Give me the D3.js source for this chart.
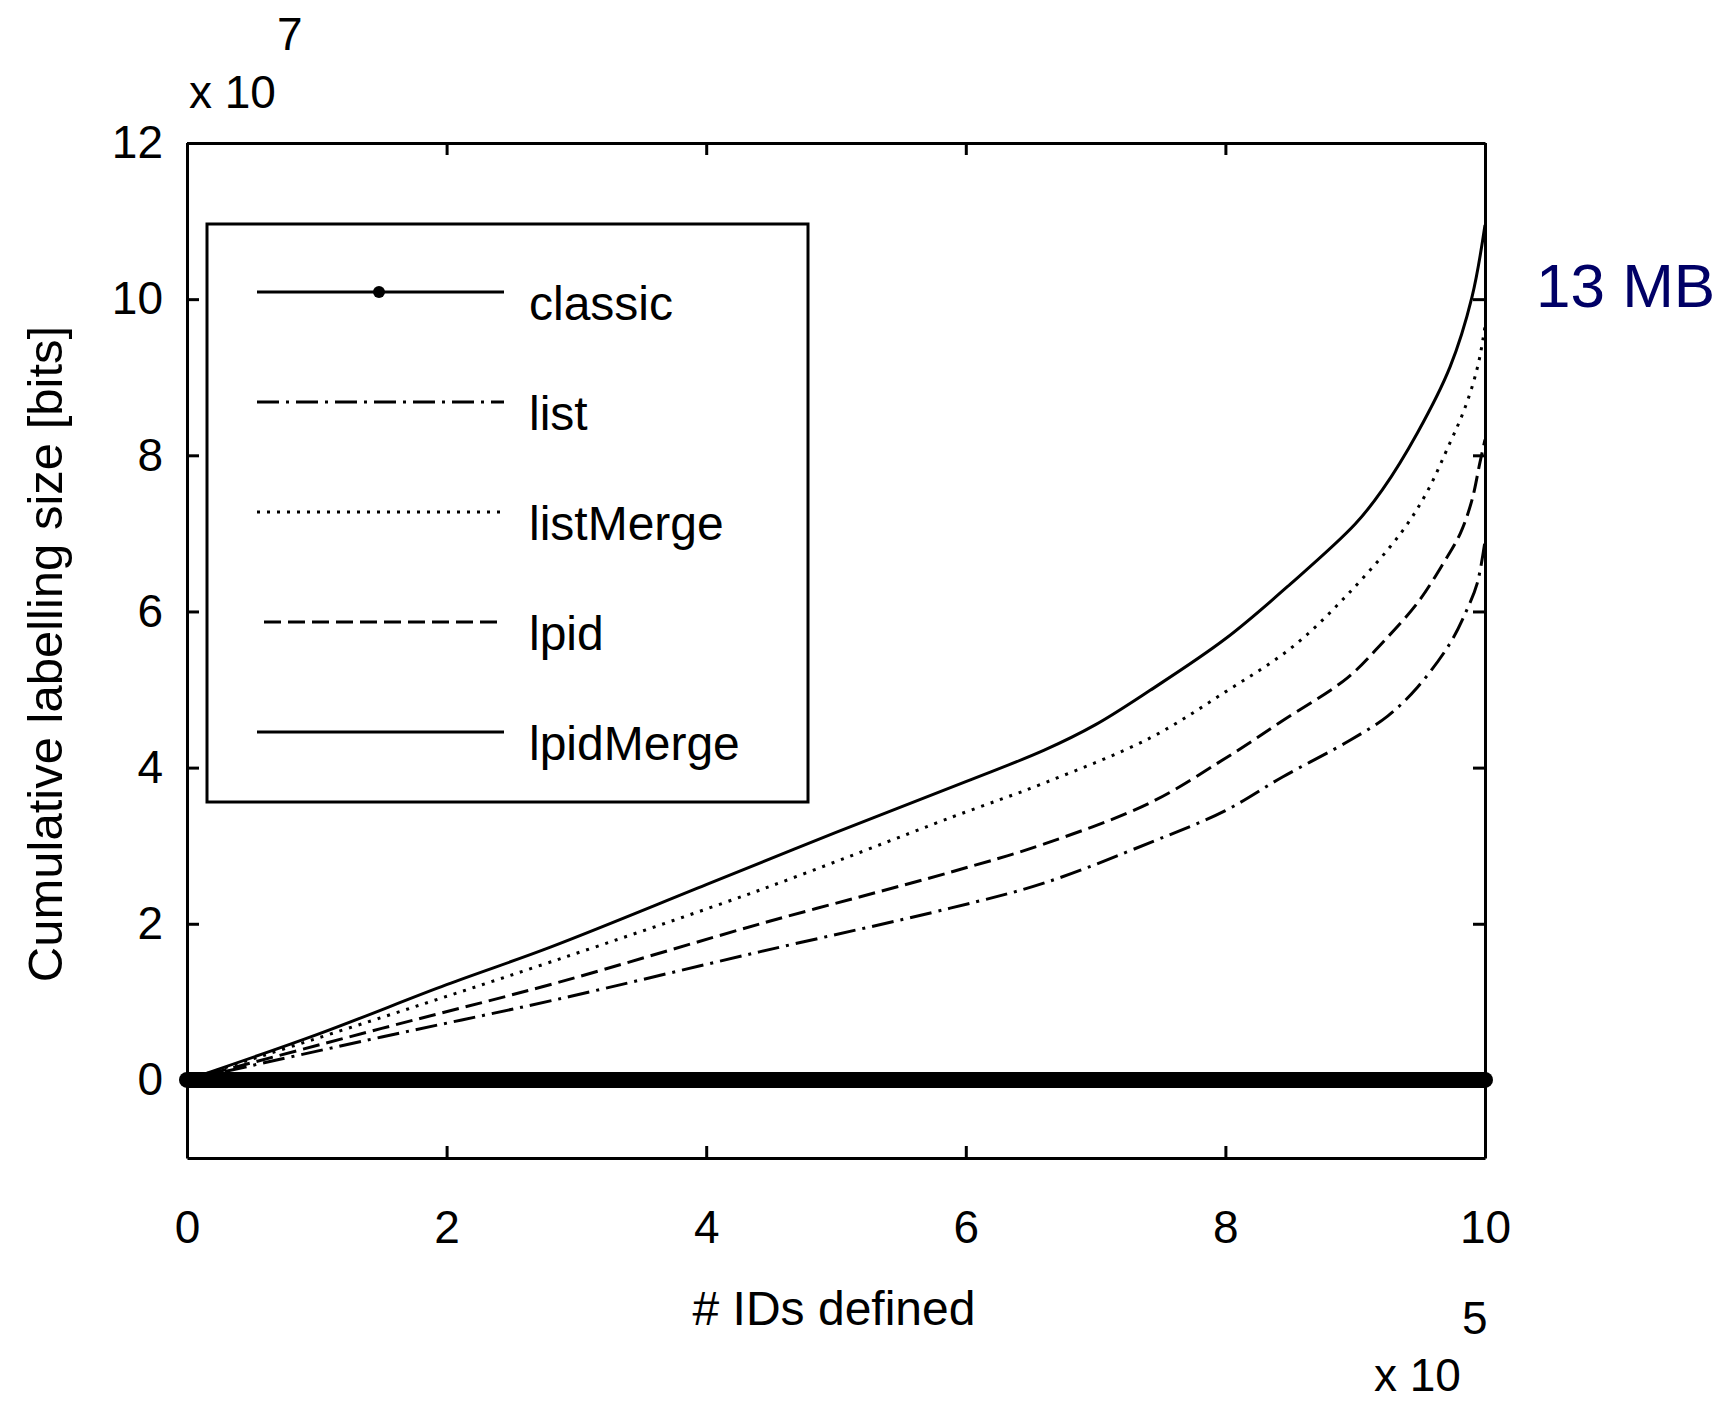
<!DOCTYPE html>
<html>
<head>
<meta charset="utf-8">
<script src="https://cdn.jsdelivr.net/npm/d3@7"></script>
<style>
  body { margin: 0; background: #fff; }
  svg { display: block; font-family: 'Liberation Sans', Arial, sans-serif; }
  .axis path, .axis line { stroke: #000; stroke-width: 3; }
  .axis text { font-size: 46px; fill: #000; font-family: 'Liberation Sans', Arial, sans-serif; }
</style>
</head>
<body>
<div id="chart"></div>
<script>
;(function() {
  'use strict';
  // x in units of 1e5 IDs, y in units of 1e7 bits
  var xTicks = [0, 2, 4, 6, 8, 10],
      yTicks = [0, 2, 4, 6, 8, 10, 12],
      xDomain = [0, 10],
      yDomain = [-1, 12];

  var classic = [[0, 0], [1, 0], [2, 0], [3, 0], [4, 0], [5, 0], [6, 0], [7, 0], [8, 0], [9, 0], [10, 0]];
  var list = [[0, 0], [1.5, 0.55], [2.82, 1.02], [4.41, 1.64], [5.88, 2.2], [6.6, 2.52], [7.42, 3.04],
              [8, 3.45], [8.44, 3.88], [8.96, 4.35], [9.25, 4.66], [9.48, 5.03], [9.73, 5.59],
              [9.86, 6.02], [9.94, 6.36], [10, 6.9]];
  var listMerge = [[0, 0], [1.5, 0.8], [2.8, 1.51], [4.41, 2.43], [5.9, 3.37], [6.6, 3.8], [7.42, 4.38],
                   [8, 4.97], [8.52, 5.55], [8.96, 6.25], [9.35, 7.0], [9.55, 7.52], [9.73, 8.16],
                   [9.83, 8.54], [9.91, 8.93], [9.96, 9.26], [10, 9.65]];
  var lpid = [[0, 0], [1.5, 0.66], [2.84, 1.24], [4.44, 2.01], [5.88, 2.66], [6.6, 3.02], [7.42, 3.55],
              [8, 4.12], [8.44, 4.6], [8.94, 5.15], [9.21, 5.6], [9.48, 6.11], [9.68, 6.62],
              [9.81, 7.0], [9.9, 7.43], [9.96, 7.9], [10, 8.2]];
  var lpidMerge = [[0, 0], [1, 0.58], [2, 1.22], [2.8, 1.7], [4, 2.5], [5, 3.17], [6, 3.82], [6.6, 4.22],
                   [7, 4.55], [7.42, 4.99], [8, 5.65], [8.5, 6.35], [9, 7.12], [9.21, 7.56], [9.48, 8.29],
                   [9.73, 9.13], [9.9, 10.03], [10, 10.95]];

  var seriesNames = ['classic', 'list', 'listMerge', 'lpid', 'lpidMerge'],
      seriesData = [classic, list, listMerge, lpid, lpidMerge],
      seriesDash = [null, '22,7,3,7', '3,7', '17,7', null];

  var margin = {top: 143, left: 187},
      width = 1298,
      height = 1015,
      tickLen = 12;

  var svg = d3.select('#chart')
    .append('svg')
    .attr('width', 1729)
    .attr('height', 1401);

  var x = d3.scaleLinear().domain(xDomain).range([0, width]),
      y = d3.scaleLinear().domain(yDomain).range([height, 0]);

  var g = svg.append('g')
    .attr('transform', 'translate(' + margin.left + ',' + margin.top + ')');

  g.append('rect')
    .attr('width', width)
    .attr('height', height)
    .attr('fill', '#fff');

  var line = d3.line()
    .x(function(d) { return x(d[0]); })
    .y(function(d) { return y(d[1]); })
    .curve(d3.curveCatmullRom.alpha(0.5));

  // Curves (classic is drawn last, its dense markers form the thick band)
  seriesData.forEach(function(data, i) {
    if (i === 0) return;
    g.append('path')
      .datum(data)
      .attr('fill', 'none')
      .attr('stroke', '#000')
      .attr('stroke-width', 3)
      .attr('stroke-dasharray', seriesDash[i])
      .attr('d', line);
  });

  g.append('path')
    .datum(classic)
    .attr('fill', 'none')
    .attr('stroke', '#000')
    .attr('stroke-width', 16)
    .attr('stroke-linecap', 'round')
    .attr('d', line);

  // Axes, ticks pointing inwards on all four sides
  g.append('g')
    .attr('class', 'axis')
    .call(d3.axisLeft(y).tickValues(yTicks).tickSize(-tickLen).tickSizeOuter(0).tickPadding(24));
  g.append('g')
    .attr('class', 'axis')
    .attr('transform', 'translate(' + width + ',0)')
    .call(d3.axisRight(y).tickValues(yTicks).tickSize(-tickLen).tickSizeOuter(0).tickFormat(''));
  g.append('g')
    .attr('class', 'axis')
    .attr('transform', 'translate(0,' + height + ')')
    .call(d3.axisBottom(x).tickValues(xTicks).tickSize(-tickLen).tickSizeOuter(0).tickPadding(52));
  g.append('g')
    .attr('class', 'axis')
    .call(d3.axisTop(x).tickValues(xTicks).tickSize(-tickLen).tickSizeOuter(0).tickFormat(''));

  // Exponent labels
  var expo = svg.append('g')
    .attr('font-size', 46)
    .attr('fill', '#000');
  expo.append('text').attr('x', 189).attr('y', 108).text('x 10');
  expo.append('text').attr('x', 277).attr('y', 50).text('7');
  expo.append('text').attr('x', 1374).attr('y', 1391).text('x 10');
  expo.append('text').attr('x', 1462).attr('y', 1334).text('5');

  // Axis titles
  svg.append('text')
    .attr('transform', 'translate(62,654) rotate(-90)')
    .attr('text-anchor', 'middle')
    .attr('font-size', 49)
    .text('Cumulative labelling size [bits]');
  svg.append('text')
    .attr('x', 834)
    .attr('y', 1325)
    .attr('text-anchor', 'middle')
    .attr('font-size', 48)
    .text('# IDs defined');

  // Annotation
  svg.append('text')
    .attr('x', 1536)
    .attr('y', 307)
    .attr('font-size', 62)
    .attr('fill', '#000066')
    .text('13 MB');

  // Legend
  var legend = svg.append('g')
    .attr('transform', 'translate(207,224)');
  legend.append('rect')
    .attr('width', 601)
    .attr('height', 578)
    .attr('fill', '#fff')
    .attr('stroke', '#000')
    .attr('stroke-width', 3);

  var rows = legend.selectAll('g.row')
    .data(seriesNames)
    .enter()
    .append('g')
    .attr('class', 'row')
    .attr('transform', function(d, i) { return 'translate(0,' + (68 + i * 110) + ')'; });
  rows.append('line')
    .attr('x1', function(d, i) { return i === 3 ? 57 : 50; })
    .attr('x2', 297)
    .attr('stroke', '#000')
    .attr('stroke-width', 3)
    .attr('stroke-dasharray', function(d, i) { return seriesDash[i]; });
  rows.filter(function(d, i) { return i === 0; })
    .append('circle')
    .attr('cx', 172)
    .attr('r', 6)
    .attr('fill', '#000');
  rows.append('text')
    .attr('x', 322)
    .attr('y', 28)
    .attr('font-size', 48)
    .text(function(d) { return d; });
})();
</script>
</body>
</html>
